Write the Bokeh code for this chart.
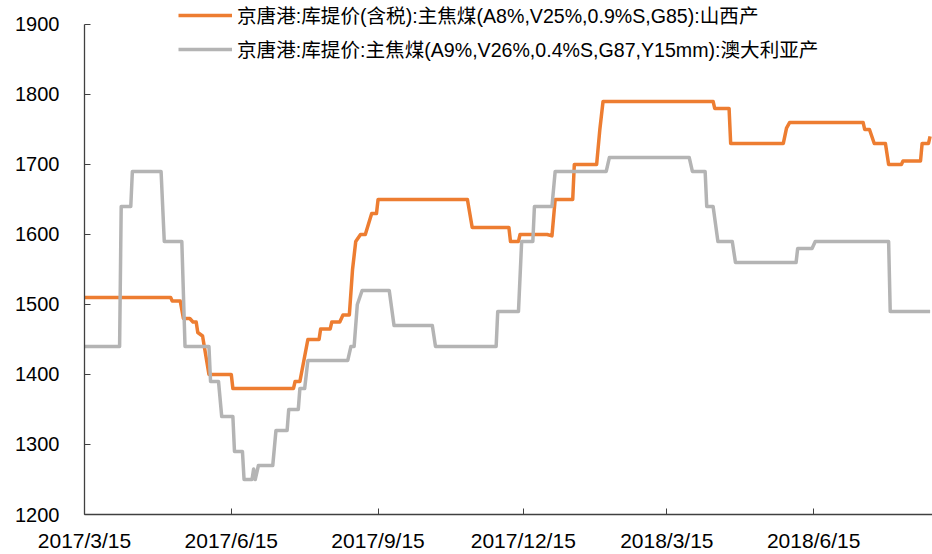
from datetime import datetime
import pandas as pd
from bokeh.plotting import figure
from bokeh.models import Range1d, FixedTicker, Legend, LegendItem, ColumnDataSource
from bokeh.embed import file_html
from bokeh.resources import INLINE

# Shanxi coking coal (orange): breakpoints of the daily series
shanxi_dates = [
    "2017-03-15", "2017-05-08", "2017-05-09", "2017-05-14", "2017-05-16", "2017-05-20",
    "2017-05-22", "2017-05-24", "2017-05-25", "2017-05-28", "2017-06-01", "2017-06-15",
    "2017-06-16", "2017-07-24", "2017-07-25", "2017-07-28", "2017-08-02", "2017-08-09",
    "2017-08-10", "2017-08-16", "2017-08-17", "2017-08-22", "2017-08-24", "2017-08-28",
    "2017-08-30", "2017-09-01", "2017-09-04", "2017-09-07", "2017-09-11", "2017-09-14",
    "2017-09-15", "2017-11-10", "2017-11-13", "2017-12-06", "2017-12-07", "2017-12-12",
    "2017-12-13", "2017-12-30", "2018-01-02", "2018-01-04", "2018-01-15", "2018-01-16",
    "2018-01-30", "2018-02-01", "2018-02-03", "2018-04-13", "2018-04-14", "2018-04-23",
    "2018-04-24", "2018-05-27", "2018-05-29", "2018-05-31", "2018-07-16", "2018-07-17",
    "2018-07-20", "2018-07-23", "2018-07-30", "2018-08-01", "2018-08-09", "2018-08-10",
    "2018-08-21", "2018-08-22", "2018-08-26", "2018-08-27",
]
shanxi_values = [
    1510, 1510, 1505, 1505, 1480, 1480,
    1475, 1475, 1460, 1455, 1400, 1400,
    1380, 1380, 1390, 1390, 1450, 1450,
    1465, 1465, 1475, 1475, 1485, 1485,
    1550, 1590, 1600, 1600, 1630, 1630,
    1650, 1650, 1610, 1610, 1590, 1590,
    1600, 1600, 1598, 1650, 1650, 1700,
    1700, 1750, 1790, 1790, 1780, 1780,
    1730, 1730, 1752, 1760, 1760, 1750,
    1750, 1730, 1730, 1700, 1700, 1705,
    1705, 1730, 1730, 1740,
]

# Australian coking coal (gray)
aus_dates = [
    "2017-03-15", "2017-04-06", "2017-04-07", "2017-04-13", "2017-04-14", "2017-05-02",
    "2017-05-04", "2017-05-15", "2017-05-17", "2017-06-01", "2017-06-02", "2017-06-07",
    "2017-06-09", "2017-06-16", "2017-06-17", "2017-06-22", "2017-06-23", "2017-06-28",
    "2017-06-29", "2017-06-30", "2017-07-02", "2017-07-11", "2017-07-13", "2017-07-20",
    "2017-07-21", "2017-07-27", "2017-07-28", "2017-07-31", "2017-08-02", "2017-08-27",
    "2017-08-29", "2017-08-31", "2017-09-02", "2017-09-05", "2017-09-22", "2017-09-25",
    "2017-10-19", "2017-10-21", "2017-11-28", "2017-11-29", "2017-12-12", "2017-12-14",
    "2017-12-21", "2017-12-22", "2018-01-02", "2018-01-04", "2018-02-05", "2018-02-07",
    "2018-03-29", "2018-03-31", "2018-04-08", "2018-04-09", "2018-04-13", "2018-04-16",
    "2018-04-25", "2018-04-27", "2018-06-04", "2018-06-05", "2018-06-14", "2018-06-16",
    "2018-08-01", "2018-08-02", "2018-08-27",
]
aus_values = [
    1440, 1440, 1640, 1640, 1690, 1690,
    1590, 1590, 1440, 1440, 1390, 1390,
    1340, 1340, 1290, 1290, 1250, 1250,
    1265, 1250, 1270, 1270, 1320, 1320,
    1350, 1350, 1380, 1380, 1420, 1420,
    1440, 1440, 1500, 1520, 1520, 1470,
    1470, 1440, 1440, 1490, 1490, 1590,
    1590, 1640, 1640, 1690, 1690, 1710,
    1710, 1690, 1690, 1640, 1640, 1590,
    1590, 1560, 1560, 1580, 1580, 1590,
    1590, 1490, 1490,
]

series_names = [
    "京唐港:库提价(含税):主焦煤(A8%,V25%,0.9%S,G85):山西产",
    "京唐港:库提价:主焦煤(A9%,V26%,0.4%S,G87,Y15mm):澳大利亚产",
]
series_colors = ["#ED7D31", "#B4B4B4"]

xtick_dates = ["2017-03-15", "2017-06-15", "2017-09-15", "2017-12-15", "2018-03-15", "2018-06-15"]
xtick_labels = ["2017/3/15", "2017/6/15", "2017/9/15", "2017/12/15", "2018/3/15", "2018/6/15"]
ytick_values = [1200, 1300, 1400, 1500, 1600, 1700, 1800, 1900]
y_axis_min, y_axis_max = 1200, 1900

x_start = datetime(2017, 3, 15)
x_end = datetime(2018, 8, 28, 12)

# the frame runs to the top edge so the legend (above the 1900 line) is not clipped;
# the visible axis line is bounded to 1200..1900
p = figure(width=932, height=554, x_axis_type="datetime",
           x_range=Range1d(x_start, x_end), y_range=Range1d(1200, 1934.2),
           output_backend="svg", toolbar_location=None,
           min_border_left=84, min_border_right=0, min_border_top=0, min_border_bottom=39)
p.outline_line_color = None
p.xgrid.visible = False
p.ygrid.visible = False
p.background_fill_color = "white"
p.border_fill_color = "white"

src_sx = ColumnDataSource(dict(x=pd.to_datetime(shanxi_dates), y=shanxi_values))
src_au = ColumnDataSource(dict(x=pd.to_datetime(aus_dates), y=aus_values))

r_sx = p.line("x", "y", source=src_sx, line_color=series_colors[0], line_width=3.5, line_join="round")
r_au = p.line("x", "y", source=src_au, line_color=series_colors[1], line_width=3.5, line_join="round")

# axes
tick_ms = [pd.Timestamp(d).value / 1e6 for d in xtick_dates]
p.xaxis.ticker = FixedTicker(ticks=tick_ms)
p.xaxis.major_label_overrides = {t: lab for t, lab in zip(tick_ms, xtick_labels)}
p.yaxis.ticker = FixedTicker(ticks=ytick_values)
p.yaxis.bounds = (y_axis_min, y_axis_max)

for ax in (p.xaxis[0], p.yaxis[0]):
    ax.axis_line_color = "#404040"
    ax.axis_line_width = 1.3
    ax.major_tick_line_color = "#404040"
    ax.major_tick_in = 6
    ax.major_tick_out = 0
    ax.minor_tick_line_color = None
    ax.major_label_text_font = "Liberation Sans"
    ax.major_label_text_color = "black"
p.yaxis.major_label_text_font_size = "20px"
p.xaxis.major_label_text_font_size = "21px"
p.yaxis.major_label_standoff = 25
p.xaxis.major_label_standoff = 14

legend = Legend(items=[LegendItem(label=series_names[0], renderers=[r_sx]),
                       LegendItem(label=series_names[1], renderers=[r_au])],
                location=(94, 451), orientation="vertical",
                padding=0, margin=0, spacing=5,
                label_height=18, glyph_height=18, glyph_width=54, label_standoff=5,
                label_text_font="Liberation Sans, Noto Sans CJK SC",
                label_text_font_size="19.6px", label_text_color="black",
                background_fill_alpha=0, border_line_color=None)
p.add_layout(legend, "center")

open("out.html", "w").write(file_html(p, INLINE))
